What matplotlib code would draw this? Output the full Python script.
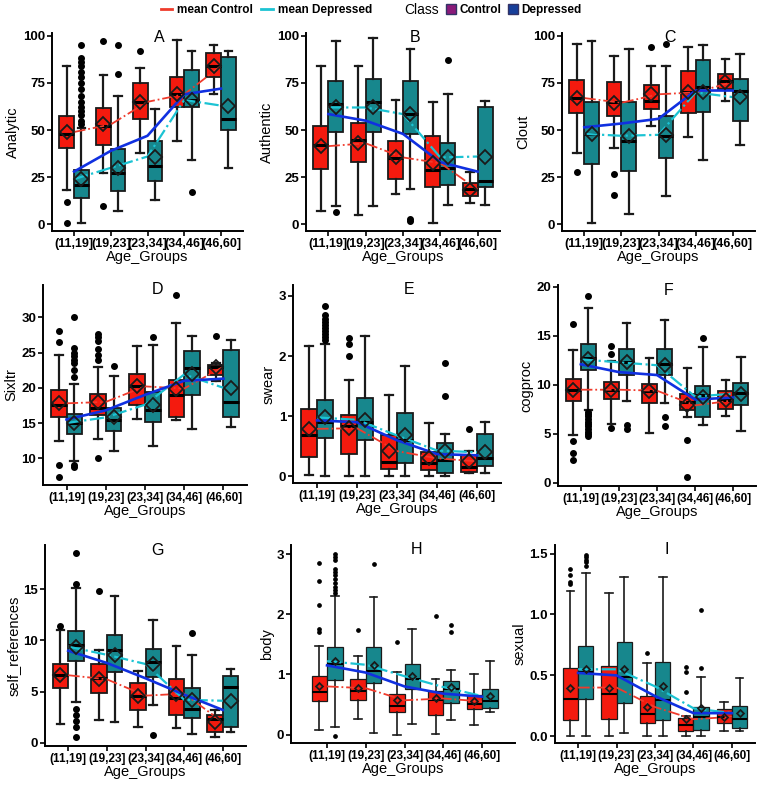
import numpy as np
import matplotlib
matplotlib.use("Agg")
import matplotlib.pyplot as plt
from matplotlib.lines import Line2D
from matplotlib.patches import Patch

plt.rcParams['font.family'] = ['Liberation Sans', 'DejaVu Sans']

age_groups = ['(11,19]', '(19,23]', '(23,34]', '(34,46]', '(46,60]']

# box = [whisker low, q1, median, q3, whisker high] per age group
# Analytic (A)
analytic_ctrl_box = [[18, 40.6, 48, 57.6, 84], [27, 42, 52, 61.5, 79], [38, 56, 65, 75, 83],
                     [44, 62, 69, 78, 98], [69, 78, 84, 91, 95]]
analytic_ctrl_mean = [49, 53, 65, 69, 84]
analytic_ctrl_out = [[12, 1], [97, 10], [92], [], []]
analytic_dep_box = [[1, 14, 21, 29, 51], [7, 17.5, 27, 40, 68], [13, 23, 31, 44, 61],
                    [34, 62, 66, 82, 92], [30, 50, 56, 89, 92]]
analytic_dep_mean = [24, 30, 36, 66, 63]
analytic_dep_out = [[95, 88, 86, 84, 81, 78, 75, 72, 68, 65, 62, 60, 58, 55, 53], [95, 80], [], [17], []]
analytic_smooth = [28, 39, 47, 69, 72]

# Authentic (B)
authentic_ctrl_box = [[7, 29.5, 42, 52, 84], [5, 33, 45, 54, 84], [16, 24, 35, 44, 66],
                      [1, 20, 29, 47, 65], [11.5, 15, 19, 22, 28]]
authentic_ctrl_mean = [41.5, 43, 35.5, 32.5, 18.5]
authentic_ctrl_out = [[], [], [], [], []]
authentic_dep_box = [[10, 49, 64, 76, 97], [10, 49, 65, 77, 99], [19, 48, 58.5, 76, 93],
                     [10.5, 21, 30, 43, 69], [10.5, 20, 23, 62, 65.5]]
authentic_dep_mean = [62, 62, 58.5, 35.5, 36]
authentic_dep_out = [[6.5], [], [3, 2], [87], []]
authentic_smooth = [58.5, 55, 48, 33, 28]

# Clout (C)
clout_ctrl_box = [[38, 59, 67, 76.5, 95.5], [40.5, 57.5, 65, 75.5, 89.5], [52, 61, 65.5, 74, 84],
                  [46.5, 59, 70, 81.5, 94], [65.5, 72, 76, 79.5, 87.5]]
clout_ctrl_mean = [67, 64.5, 69, 70, 75.5]
clout_ctrl_out = [[28], [26.5, 15.5], [94], [], []]
clout_dep_box = [[1, 32, 48, 65, 97], [5.5, 28.5, 44, 65, 93], [15, 35, 47, 57.5, 84],
                 [34, 59.5, 73, 87, 95], [42, 55, 70.5, 77, 90.5]]
clout_dep_mean = [48, 47, 47.5, 70, 67.5]
clout_dep_out = [[], [], [95.5], [], []]
clout_smooth = [51.5, 53.5, 56, 71, 71]

# Sixltr (D)
sixltr_ctrl_box = [[12.5, 15.9, 17.5, 19.7, 24.7], [12.8, 16.2, 17.2, 19.1, 23], [15.6, 17.5, 20.2, 21.9, 25.9],
                   [15.4, 15.8, 19, 21.1, 29.2], [21, 21.8, 22.9, 23.3, 23.5]]
sixltr_ctrl_mean = [17.8, 18, 20.2, 19.9, 23]
sixltr_ctrl_out = [[28, 26.5, 9.1, 7.3], [27.6, 27.2, 26.6, 25.5, 24.6, 23.9, 10.1], [], [33.2], [27.3]]
sixltr_dep_box = [[9.6, 13.4, 15, 16.3, 20.5], [11, 13.8, 15.4, 17.2, 21.7], [11.7, 15.2, 16.8, 19.4, 26.1],
                  [14.1, 19, 22.8, 25.2, 27.3], [14.4, 15.9, 18, 25.4, 26.8]]
sixltr_dep_mean = [15, 15.8, 17.6, 21.9, 20]
sixltr_dep_out = [[30.1, 25.6, 25, 24.5, 24, 23.5, 22.6, 21.6, 9.0, 8.8], [23.1], [27.2], [], []]
sixltr_smooth = [15.5, 16.8, 19, 21, 21.3]

# swear (E)
swear_ctrl_box = [[0.02, 0.32, 0.68, 1.12, 2.16], [0, 0.37, 0.83, 1.02, 1.6], [0, 0.12, 0.24, 0.68, 1.35],
                  [0, 0.1, 0.22, 0.4, 0.88], [0.05, 0.08, 0.15, 0.35, 0.43]]
swear_ctrl_mean = [0.79, 0.8, 0.42, 0.3, 0.25]
swear_ctrl_out = [[], [2.3, 2.2, 2.0], [], [], [0.79]]
swear_dep_box = [[0, 0.63, 0.9, 1.27, 2.2], [0, 0.6, 0.9, 1.3, 2.33], [0, 0.23, 0.6, 1.05, 1.83],
                 [0, 0.06, 0.28, 0.55, 0.7], [0.05, 0.17, 0.3, 0.7, 0.9]]
swear_dep_mean = [0.98, 0.94, 0.68, 0.43, 0.4]
swear_dep_out = [[2.83, 2.68, 2.62, 2.57, 2.52, 2.47, 2.42, 2.37, 2.32, 2.27], [], [], [1.88, 1.33], []]
swear_smooth = [0.93, 0.9, 0.6, 0.37, 0.35]

# cogproc (F)
cogproc_ctrl_box = [[4.9, 8.3, 9.5, 10.6, 13.6], [6, 8.5, 9.5, 10.3, 12.4], [5.1, 8.1, 9.4, 10.1, 12.7],
                    [6.7, 7.4, 8.2, 9.1, 11.7], [6.8, 7.5, 8.4, 9.4, 10.5]]
cogproc_ctrl_mean = [9.5, 9.5, 9.4, 7.9, 8.4]
cogproc_ctrl_out = [[16.2, 4.3, 3.0, 2.3], [14, 13.2, 5.6], [], [4.4, 0.6], []]
cogproc_dep_box = [[7.4, 11.5, 12.7, 14.2, 17.9], [8.3, 11, 12.3, 13.7, 16.3], [8.1, 11, 12.1, 13.7, 16.6],
                   [5.9, 6.7, 9, 9.9, 13.9], [5.3, 7.9, 9.2, 10.2, 12.8]]
cogproc_dep_mean = [12.6, 12.3, 12, 8.8, 9.1]
cogproc_dep_out = [[19.1, 7.2, 7.0, 6.8, 6.5, 6.2, 6.0, 5.8, 5.5, 5.2, 5.0, 4.8], [5.9, 5.5], [6.7, 5.8], [14.8], []]
cogproc_smooth = [12.1, 11.3, 11, 8.5, 8.7]

# self_references (G)
selfref_ctrl_box = [[1.8, 5.3, 6.6, 7.7, 11], [2.2, 4.9, 6.3, 7.7, 9.1], [1.5, 3.2, 4.6, 5.8, 7],
                    [1.4, 2.7, 4.4, 6.2, 9.5], [0.6, 1, 2.3, 2.7, 3.2]]
selfref_ctrl_mean = [6.6, 6.2, 4.6, 4.8, 2]
selfref_ctrl_out = [[11.4], [14.8], [], [], []]
selfref_dep_box = [[4, 8, 9.6, 10.9, 15.1], [2, 6.9, 9.1, 10.5, 14.4], [3.7, 6.4, 7.9, 9.2, 12],
                   [0.8, 2.4, 3.3, 5.3, 8.6], [1, 1.5, 5.4, 6.5, 7.2]]
selfref_dep_mean = [9.4, 8.6, 7.7, 4.2, 4.1]
selfref_dep_out = [[18.6, 15.5, 3.3, 2.7, 2.1, 1.5, 0.6], [], [0.7], [10.7], []]
selfref_smooth = [9, 7.8, 6.3, 4.7, 3.2]

# body (H)
body_ctrl_box = [[0.08, 0.55, 0.7, 0.97, 1.48], [0.26, 0.57, 0.72, 0.93, 1.3], [0, 0.38, 0.47, 0.67, 1.04],
                 [0.01, 0.33, 0.57, 0.73, 0.92], [0.16, 0.42, 0.5, 0.65, 1.01]]
body_ctrl_mean = [0.8, 0.77, 0.57, 0.6, 0.55]
body_ctrl_out = [[2.85, 2.55, 2.15, 1.75, 1.7], [1.74], [1.53], [1.97], []]
body_dep_box = [[0.13, 0.91, 1.17, 1.46, 2.31], [0.03, 0.86, 1.06, 1.45, 2.28], [0.18, 0.76, 0.93, 1.18, 1.76],
                [0.24, 0.53, 0.75, 0.89, 1.08], [0.37, 0.44, 0.55, 0.75, 1.22]]
body_dep_mean = [1.22, 1.16, 0.97, 0.79, 0.64]
body_dep_out = [[3.0, 2.95, 2.9, 2.75, 2.7, 2.65, 2.58, 2.52, 2.46, 2.4, 2.35, -0.02], [2.83], [], [1.82, 1.71], []]
body_smooth = [1.15, 1.03, 0.8, 0.68, 0.63]

# sexual (I)
sexual_ctrl_box = [[0, 0.13, 0.31, 0.56, 1.19], [0, 0.14, 0.35, 0.58, 1.18], [0, 0.11, 0.18, 0.33, 0.6],
                   [0, 0.04, 0.09, 0.15, 0.17], [0.04, 0.11, 0.16, 0.22, 0.28]]
sexual_ctrl_mean = [0.4, 0.4, 0.24, 0.14, 0.16]
sexual_ctrl_out = [[1.37, 1.32, 1.27, 1.25], [], [0.68], [0.57, 0.53, 0.36], []]
sexual_dep_box = [[0, 0.31, 0.53, 0.74, 1.34], [0.03, 0.27, 0.49, 0.77, 1.31], [0, 0.13, 0.3, 0.61, 1.31],
                  [0, 0.05, 0.16, 0.24, 0.49], [0.04, 0.07, 0.14, 0.25, 0.48]]
sexual_dep_mean = [0.55, 0.55, 0.41, 0.23, 0.19]
sexual_dep_out = [[1.49, 1.47, 1.45, 1.43, 1.4], [], [], [1.04, 0.56], []]
sexual_smooth = [0.52, 0.5, 0.33, 0.19, 0.19]

RED = '#f41a0e'
TEAL = '#17878d'
RED_LINE = '#ef3b2c'
CYAN = '#1cc3d3'
BLUE = '#1030e0'

W, H = 760, 791
fig = plt.figure(figsize=(W / 100, H / 100), dpi=100)

# label, ylabel, data, (left, right, top, bottom) px, ylim, yticks, small markers
panels = [
    ('A', 'Analytic', analytic_ctrl_box, analytic_ctrl_mean, analytic_ctrl_out, analytic_dep_box,
     analytic_dep_mean, analytic_dep_out, analytic_smooth, (52, 243, 33, 231), (-3.5, 101.5), [0, 25, 50, 75, 100], False),
    ('B', 'Authentic', authentic_ctrl_box, authentic_ctrl_mean, authentic_ctrl_out, authentic_dep_box,
     authentic_dep_mean, authentic_dep_out, authentic_smooth, (306, 500, 33, 231), (-3.5, 101.5), [0, 25, 50, 75, 100], False),
    ('C', 'Clout', clout_ctrl_box, clout_ctrl_mean, clout_ctrl_out, clout_dep_box,
     clout_dep_mean, clout_dep_out, clout_smooth, (562, 755, 33, 231), (-3.5, 101.5), [0, 25, 50, 75, 100], False),
    ('D', 'Sixltr', sixltr_ctrl_box, sixltr_ctrl_mean, sixltr_ctrl_out, sixltr_dep_box,
     sixltr_dep_mean, sixltr_dep_out, sixltr_smooth, (43, 247, 285, 485), (6.2, 34.6), [10, 15, 20, 25, 30], False),
    ('E', 'swear', swear_ctrl_box, swear_ctrl_mean, swear_ctrl_out, swear_dep_box,
     swear_dep_mean, swear_dep_out, swear_smooth, (293, 501, 285, 483), (-0.11, 3.18), [0, 1, 2, 3], False),
    ('F', 'cogproc', cogproc_ctrl_box, cogproc_ctrl_mean, cogproc_ctrl_out, cogproc_dep_box,
     cogproc_dep_mean, cogproc_dep_out, cogproc_smooth, (558, 756, 285, 486), (-0.34, 20.2), [0, 5, 10, 15, 20], False),
    ('G', 'self_references', selfref_ctrl_box, selfref_ctrl_mean, selfref_ctrl_out, selfref_dep_box,
     selfref_dep_mean, selfref_dep_out, selfref_smooth, (45, 246, 545, 746), (-0.33, 19.35), [0, 5, 10, 15], False),
    ('H', 'body', body_ctrl_box, body_ctrl_mean, body_ctrl_out, body_dep_box,
     body_dep_mean, body_dep_out, body_smooth, (291, 515, 545, 743), (-0.14, 3.15), [0, 1, 2, 3], True),
    ('I', 'sexual', sexual_ctrl_box, sexual_ctrl_mean, sexual_ctrl_out, sexual_dep_box,
     sexual_dep_mean, sexual_dep_out, sexual_smooth, (555, 755, 545, 743), (-0.055, 1.57), [0.0, 0.5, 1.0, 1.5], True),
]

x = np.arange(1, 6)
for (lab, ylab, cbox, cmean, cout, dbox, dmean, dout, smooth, px, ylim, yticks, small) in panels:
    l, r, t, b = px
    ax = fig.add_axes([l / W, 1 - b / H, (r - l) / W, (b - t) / H])
    lw = 0.9 if small else 1.3
    for boxes, means, outs, off, col in [(cbox, cmean, cout, -0.2, RED), (dbox, dmean, dout, 0.2, TEAL)]:
        stats = [dict(whislo=bx[0], q1=bx[1], med=bx[2], q3=bx[3], whishi=bx[4], fliers=o)
                 for bx, o in zip(boxes, outs)]
        ax.bxp(stats, positions=x + off, widths=0.4, capwidths=0.2, patch_artist=True,
               manage_ticks=False,
               boxprops=dict(facecolor=col, edgecolor='#1a1a1a', linewidth=lw),
               medianprops=dict(color='black', linewidth=2.2 if not small else 1.5),
               whiskerprops=dict(color='#1a1a1a', linewidth=lw + 0.3),
               capprops=dict(color='#1a1a1a', linewidth=lw + 0.3),
               flierprops=dict(marker='o', markerfacecolor='black', markeredgecolor='black',
                               markersize=2.4 if small else 4.0))
        ax.plot(x + off, means, 'D', mfc='none', mec='#1a1a1a', ms=3.5 if small else 7,
                mew=1.3, zorder=6)
    ax.plot(x, cmean, color=RED_LINE, ls='-.', lw=1.3, zorder=5)
    ax.plot(x, dmean, color=CYAN, ls='-.', lw=1.6, zorder=5)
    ax.plot(x, smooth, color=BLUE, lw=1.9, zorder=5)

    if lab == 'H':
        ax.set_xlim(0.07, 5.85)
    else:
        ax.set_xlim(0.4, 5.6)
    ax.set_ylim(*ylim)
    ax.set_xticks(x)
    ax.set_xticklabels(age_groups, fontsize=9 if lab in 'ABC' else 8.5, fontweight='bold')
    ax.set_yticks(yticks)
    if lab == 'I':
        ax.set_yticklabels(['%.1f' % v for v in yticks])
    for tl in ax.get_yticklabels():
        tl.set_fontsize(9.5)
        tl.set_fontweight('bold')
    ax.tick_params(length=3.5, width=1.2, color='black', pad=1.5)
    ax.set_xlabel('Age_Groups', fontsize=10.5, labelpad=0)
    ax.set_ylabel(ylab, fontsize=10.5, labelpad=2)
    for s in ['top', 'right']:
        ax.spines[s].set_visible(False)
    for s in ['left', 'bottom']:
        ax.spines[s].set_linewidth(1.4)
    ax.text(0.56, 0.975, lab, transform=ax.transAxes, ha='center', va='center', fontsize=11.5)

# legend
h1 = Line2D([], [], color=RED_LINE, lw=2)
h2 = Line2D([], [], color=CYAN, lw=2)
fig.legend([h1, h2], ['mean Control', 'mean Depressed'], loc='center left',
           bbox_to_anchor=(150 / W, 1 - 10 / H), ncol=2, frameon=False, handlelength=1.0,
           handletextpad=0.4, columnspacing=0.7, prop=dict(size=8.5, weight='bold'))
fig.text(404 / W, 1 - 10 / H, 'Class', fontsize=10, va='center', ha='left')
p1 = Patch(facecolor='#8a1a7a', edgecolor='#333366')
p2 = Patch(facecolor='#163f9a', edgecolor='#333366')
fig.legend([p1, p2], ['Control', 'Depressed'], loc='center left',
           bbox_to_anchor=(435 / W, 1 - 10 / H), ncol=2, frameon=False, handlelength=0.9,
           handleheight=0.9, handletextpad=0.3, columnspacing=0.5, prop=dict(size=8.5, weight='bold'))

fig.savefig('out.png', dpi=100)
